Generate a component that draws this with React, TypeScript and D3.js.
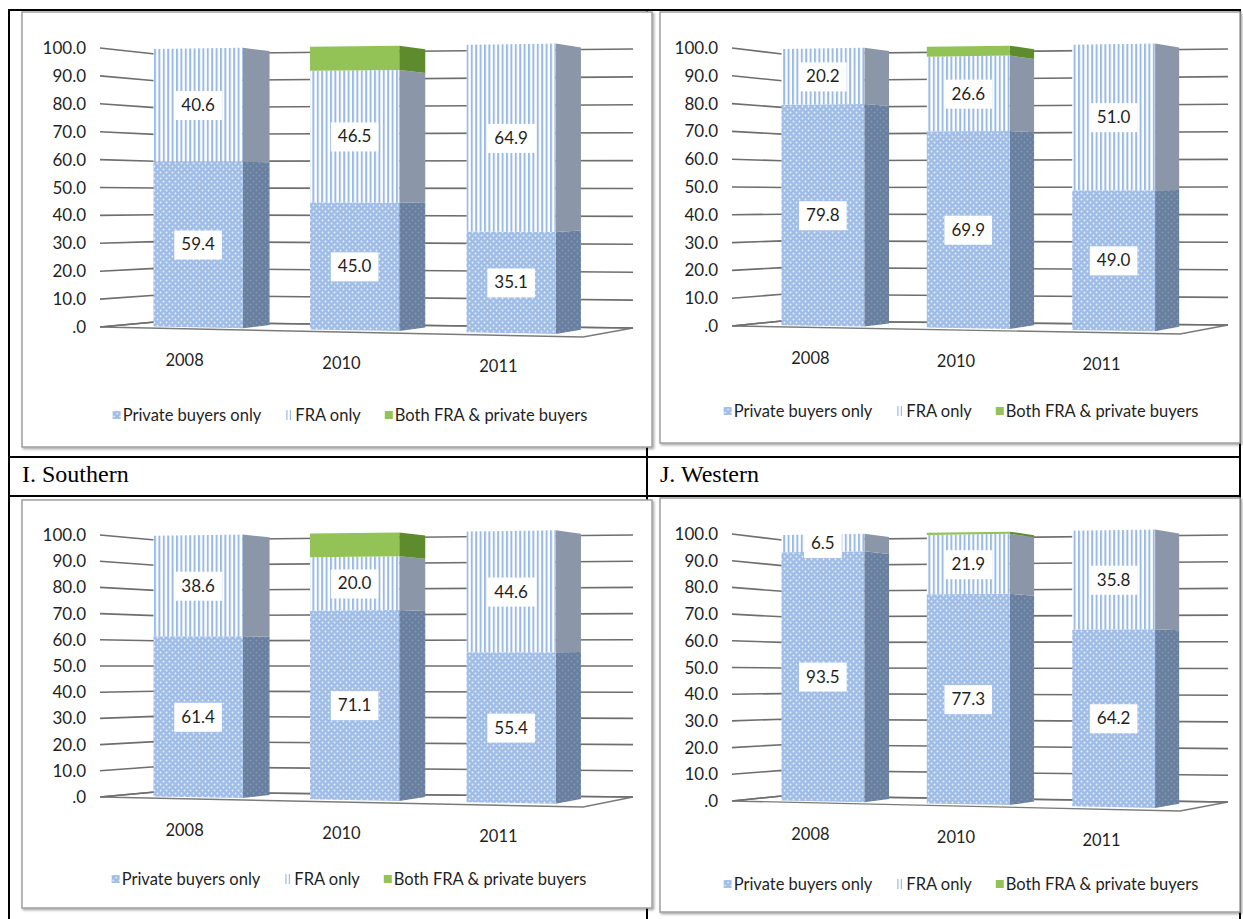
import React, { useEffect, useRef } from "react";
import * as d3 from "d3";

const categories = ["2008", "2010", "2011"];
const seriesNames = ["Private buyers only", "FRA only", "Both FRA & private buyers"];
const ticks = [0, 10, 20, 30, 40, 50, 60, 70, 80, 90, 100];

// top-left panel
const privateTL = [59.4, 45.0, 35.1];
const fraTL = [40.6, 46.5, 64.9];
const bothTL = [0, 8.5, 0];
// top-right panel
const privateTR = [79.8, 69.9, 49.0];
const fraTR = [20.2, 26.6, 51.0];
const bothTR = [0, 3.5, 0];
// I. Southern
const privateSouthern = [61.4, 71.1, 55.4];
const fraSouthern = [38.6, 20.0, 44.6];
const bothSouthern = [0, 8.9, 0];
// J. Western
const privateWestern = [93.5, 77.3, 64.2];
const fraWestern = [6.5, 21.9, 35.8];
const bothWestern = [0, 0.8, 0];

const captions = ["I. Southern", "J. Western"];

const FONT = "Lato, 'Open Sans', sans-serif";
const TXT = "#1f1f1f";

type Panel = {
  frame: { x: number; y: number; w: number; h: number };
  xL0: number; xL1: number; xR0: number; xR1: number;
  yT: number[]; yB: number[];
  legendY: number; legendCx: number;
  series: number[][];
};

const panels: Panel[] = [
  { frame: { x: 22, y: 12, w: 630, h: 435 }, xL0: 100, xL1: 155, xR0: 583, xR1: 633,
    yT: [48, 41, 54, 49], yB: [327, 337, 322, 328], legendY: 415, legendCx: 350,
    series: [privateTL, fraTL, bothTL] },
  { frame: { x: 660, y: 12, w: 580, h: 431 }, xL0: 732, xL1: 782, xR0: 1180, xR1: 1228,
    yT: [48, 41, 54, 49], yB: [326, 334, 321, 325], legendY: 411, legendCx: 961,
    series: [privateTR, fraTR, bothTR] },
  { frame: { x: 22, y: 500, w: 630, h: 408 }, xL0: 100, xL1: 155, xR0: 583, xR1: 633,
    yT: [535, 528, 540, 535], yB: [797, 807, 792, 797], legendY: 879, legendCx: 349,
    series: [privateSouthern, fraSouthern, bothSouthern] },
  { frame: { x: 660, y: 498, w: 580, h: 414 }, xL0: 732, xL1: 782, xR0: 1180, xR1: 1228,
    yT: [534, 527, 540, 535], yB: [801, 811, 796, 802], legendY: 884, legendCx: 961,
    series: [privateWestern, fraWestern, bothWestern] },
];

const frontFill = ["url(#dotsFront)", "url(#stripesFront)", "#93c256"];
const sideFill = ["url(#dotsSide)", "#8b97a8", "#5e8b2e"];

export default function App() {
  const ref = useRef<SVGSVGElement>(null);

  useEffect(() => {
    const svg = d3.select(ref.current);
    svg.selectAll("*").remove();

    const defs = svg.append("defs");
    const pf = defs.append("pattern").attr("id", "dotsFront").attr("patternUnits", "userSpaceOnUse")
      .attr("width", 6).attr("height", 6);
    pf.append("rect").attr("width", 6).attr("height", 6).attr("fill", "#9fbde6");
    pf.append("circle").attr("cx", 1.5).attr("cy", 1.5).attr("r", 0.9).attr("fill", "#fff").attr("opacity", 0.8);
    pf.append("circle").attr("cx", 4.5).attr("cy", 4.5).attr("r", 0.9).attr("fill", "#fff").attr("opacity", 0.8);
    const ps = defs.append("pattern").attr("id", "dotsSide").attr("patternUnits", "userSpaceOnUse")
      .attr("width", 6).attr("height", 6);
    ps.append("rect").attr("width", 6).attr("height", 6).attr("fill", "#687f9f");
    ps.append("circle").attr("cx", 1.5).attr("cy", 1.5).attr("r", 0.9).attr("fill", "#8499b6");
    ps.append("circle").attr("cx", 4.5).attr("cy", 4.5).attr("r", 0.9).attr("fill", "#8499b6");
    const st = defs.append("pattern").attr("id", "stripesFront").attr("patternUnits", "userSpaceOnUse")
      .attr("width", 4.4).attr("height", 10);
    st.append("rect").attr("width", 4.4).attr("height", 10).attr("fill", "#fff");
    st.append("rect").attr("width", 2).attr("height", 10).attr("fill", "#9bbbe4");
    const sh = defs.append("filter").attr("id", "shadow").attr("x", "-5%").attr("y", "-5%").attr("width", "110%").attr("height", "110%");
    sh.append("feDropShadow").attr("dx", 1.5).attr("dy", 1.5).attr("stdDeviation", 1).attr("flood-color", "#000").attr("flood-opacity", 0.35);

    // table lines
    const table = svg.append("g").attr("stroke", "#000").attr("stroke-width", 2);
    table.append("line").attr("x1", 8).attr("x2", 1241).attr("y1", 10).attr("y2", 10);
    table.append("line").attr("x1", 9).attr("x2", 9).attr("y1", 10).attr("y2", 919);
    table.append("line").attr("x1", 1240).attr("x2", 1240).attr("y1", 10).attr("y2", 919);
    table.append("line").attr("x1", 647).attr("x2", 647).attr("y1", 10).attr("y2", 919);
    table.append("line").attr("x1", 8).attr("x2", 1241).attr("y1", 457).attr("y2", 457);
    table.append("line").attr("x1", 8).attr("x2", 1241).attr("y1", 496).attr("y2", 496);

    svg.append("text").attr("x", 22).attr("y", 482).attr("font-family", "'Liberation Serif', 'Times New Roman', serif")
      .attr("font-size", 24).attr("fill", "#000").text(captions[0]);
    svg.append("text").attr("x", 660).attr("y", 482).attr("font-family", "'Liberation Serif', 'Times New Roman', serif")
      .attr("font-size", 24).attr("fill", "#000").text(captions[1]);

    const band = d3.scaleBand<string>().domain(categories).range([0, 1]).paddingInner(0.43).paddingOuter(0.254);
    const zf = 0.25, zb = 0.75;

    panels.forEach((p) => {
      const g = svg.append("g");
      g.append("rect").attr("x", p.frame.x).attr("y", p.frame.y).attr("width", p.frame.w).attr("height", p.frame.h)
        .attr("fill", "#fff").attr("stroke", "#a0a0a0").attr("stroke-width", 1.5).attr("filter", "url(#shadow)");

      const bil = (c: number[], X: number, Z: number) =>
        (c[0] * (1 - X) + c[1] * X) * (1 - Z) + (c[2] * (1 - X) + c[3] * X) * Z;
      const px = (X: number, Z: number) => {
        const l = p.xL0 + (p.xL1 - p.xL0) * Z;
        const r = p.xR0 + (p.xR1 - p.xR0) * Z;
        return l + (r - l) * X;
      };
      const py = (X: number, v: number, Z: number) =>
        d3.scaleLinear().domain([0, 100]).range([bil(p.yB, X, Z), bil(p.yT, X, Z)])(v);
      const pt = (X: number, v: number, Z: number): [number, number] => [px(X, Z), py(X, v, Z)];
      const line = d3.line();

      // floor
      g.append("path").attr("d", line([pt(0, 0, 0), pt(1, 0, 0), pt(1, 0, 1), pt(0, 0, 1)]) + "Z")
        .attr("fill", "#fff").attr("stroke", "#7a7a7a").attr("stroke-width", 1.4);
      // gridlines: back wall and left wall
      ticks.forEach((v) => {
        g.append("path").attr("d", line([pt(0, v, 0), pt(0, v, 1), pt(1, v, 1)]))
          .attr("fill", "none").attr("stroke", "#6e6e6e").attr("stroke-width", 1.6);
        g.append("text").attr("x", p.xL0 - 14).attr("y", py(0, v, 0) + 6).attr("text-anchor", "end")
          .attr("font-family", FONT).attr("font-size", 17).attr("fill", TXT)
          .text(v === 0 ? ".0" : v.toFixed(1));
      });

      // bars
      const labels: { x: number; y: number; t: string }[] = [];
      categories.forEach((c, i) => {
        const x0 = band(c)!;
        const x1 = x0 + band.bandwidth();
        let acc = 0;
        p.series.forEach((vals, s) => {
          const v = vals[i];
          if (v <= 0) return;
          const a = acc, b = acc + v;
          acc = b;
          g.append("path").attr("d", line([pt(x1, a, zf), pt(x1, a, zb), pt(x1, b, zb), pt(x1, b, zf)]) + "Z")
            .attr("fill", sideFill[s]);
          g.append("path").attr("d", line([pt(x0, a, zf), pt(x1, a, zf), pt(x1, b, zf), pt(x0, b, zf)]) + "Z")
            .attr("fill", frontFill[s]);
          if (s < 2) {
            const xc = (x0 + x1) / 2;
            labels.push({ x: px(xc, zf), y: py(xc, (a + b) / 2, zf), t: v.toFixed(1) });
          }
        });
        g.append("text").attr("x", px((x0 + x1) / 2, 0)).attr("y", py((x0 + x1) / 2, 0, 0) + 37)
          .attr("text-anchor", "middle").attr("font-family", FONT).attr("font-size", 16.5).attr("fill", TXT).text(c);
      });
      labels.forEach((l) => {
        const t = g.append("text").attr("x", l.x).attr("y", l.y + 6).attr("text-anchor", "middle")
          .attr("font-family", FONT).attr("font-size", 17).attr("fill", TXT).text(l.t);
        const w = (t.node() as SVGTextElement).getComputedTextLength();
        g.insert("rect", () => t.node() as any).attr("x", l.x - w / 2 - 7).attr("y", l.y - 14).attr("width", w + 14)
          .attr("height", 29).attr("fill", "#fff");
      });

      // legend
      const lg = g.append("g");
      const items: { w: number; node: any }[] = [];
      seriesNames.forEach((n, s) => {
        const ig = lg.append("g");
        if (s === 0) ig.append("rect").attr("x", 0).attr("y", -4).attr("width", 8).attr("height", 8).attr("fill", "url(#dotsFront)");
        if (s === 1) {
          ig.append("rect").attr("x", 1).attr("y", -5).attr("width", 1.2).attr("height", 10).attr("fill", "#9dbbe3");
          ig.append("rect").attr("x", 4.5).attr("y", -5).attr("width", 1.2).attr("height", 10).attr("fill", "#9dbbe3");
        }
        if (s === 2) ig.append("rect").attr("x", 0).attr("y", -4).attr("width", 8).attr("height", 8).attr("fill", "#93c256");
        const t = ig.append("text").attr("x", 10).attr("y", 6).attr("font-family", FONT).attr("font-size", 16.5)
          .attr("fill", TXT).text(n);
        const w = 10 + (t.node() as SVGTextElement).getComputedTextLength();
        items.push({ w, node: ig });
      });
      const gap = 24;
      const total = d3.sum(items, (d) => d.w) + gap * (items.length - 1);
      let cx = p.legendCx - total / 2;
      items.forEach((it) => {
        it.node.attr("transform", `translate(${cx},${p.legendY})`);
        cx += it.w + gap;
      });
    });
  }, []);

  return (
    <svg ref={ref} width={1243} height={919} style={{ position: "absolute", left: 0, top: 0, background: "#fff" }} />
  );
}
